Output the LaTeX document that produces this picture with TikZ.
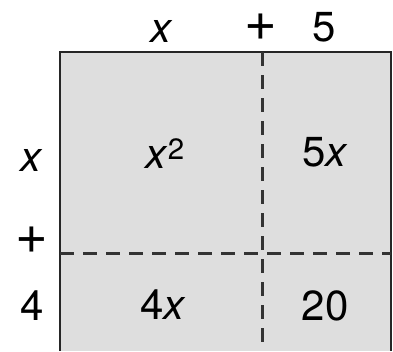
\documentclass[tikz,border=0pt]{standalone}
\usepackage{fontspec}
\setmainfont{TeX Gyre Heros}
\usetikzlibrary{positioning}

\begin{document}
\begin{tikzpicture}[x=1pt, y=-1pt,
  every node/.style={font=\fontsize{42}{48}\selectfont, inner sep=0pt},
  plus/.style={font=\fontsize{56}{60}\selectfont},
  area/.style={fill=black!13},
  frame/.style={line width=2.6pt, black!85},
  split/.style={line width=3pt, black!80, dash pattern=on 14pt off 9pt}
]
  \useasboundingbox (0,0) rectangle (393,351);

  % Ecken
  \coordinate (tl) at (60,52);
  \coordinate (tr) at (391,52);
  \coordinate (bl) at (60,351);
  \coordinate (br) at (391,351);

  % Teilungen
  \coordinate (vtop) at (262,52);
  \coordinate (vbot) at (262,351);
  \coordinate (hleft) at (60,253);
  \coordinate (hright) at (391,253);

  % Flaeche
  \fill[area] (tl) rectangle (br);
  \draw[frame] (bl) -- (tl) -- (tr) -- (br);
  \draw[split] (vtop) -- (vbot);
  \draw[split] (hleft) -- (hright);

  % Seiten oben
  \node (topx) at (162,31) {\textit{x}};
  \node[plus] (topplus) at (261,27) {+};
  \node (top5) at (324,27) {5};

  % Seiten links
  \node (leftx) at (32,160) {\textit{x}};
  \node[plus] (leftplus) at (32,240) {+};
  \node (left4) at (32,306) {4};

  % Teilflaechen
  \node (xsq) at (165,154) {\textit{x}\textsuperscript{2}};
  \node (fivex) at (325,152) {5\textit{x}};
  \node (fourx) at (163,305) {4\textit{x}};
  \node (twenty) at (325,306) {20};
\end{tikzpicture}
\end{document}
